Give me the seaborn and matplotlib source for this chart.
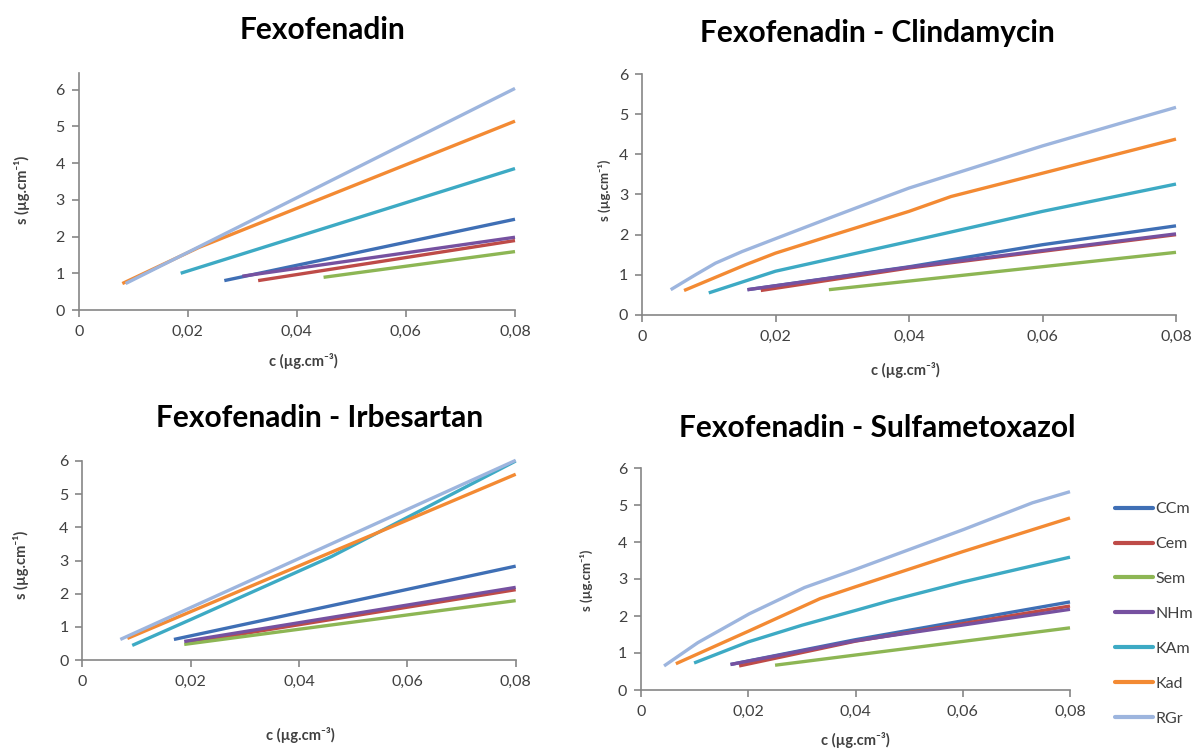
import numpy as np
import pandas as pd
import matplotlib
matplotlib.use("Agg")
import matplotlib.pyplot as plt
import seaborn as sns

sns.set_style("white")
plt.rcParams["font.family"] = ["Lato", "DejaVu Sans"]

# ---------------- data ----------------
series = ["CCm", "Cem", "Sem", "NHm", "KAm", "Kad", "RGr"]
colors = ["#3F6FB5", "#BE4B48", "#8DB654", "#7651A0", "#3DAAC4", "#F38A33", "#9DB5DE"]

titles = ["Fexofenadin", "Fexofenadin - Clindamycin",
          "Fexofenadin - Irbesartan", "Fexofenadin - Sulfametoxazol"]
x_ticks = [0, 0.02, 0.04, 0.06, 0.08]
x_ticklabels = ["0", "0,02", "0,04", "0,06", "0,08"]
y_ticks = [0, 1, 2, 3, 4, 5, 6]

# Fexofenadin
fex_c = {
    "CCm": [0.0267, 0.08], "Cem": [0.0329, 0.08], "Sem": [0.0449, 0.08],
    "NHm": [0.030, 0.08], "KAm": [0.0187, 0.08],
    "Kad": [0.008, 0.022, 0.08], "RGr": [0.0086, 0.08],
}
fex_s = {
    "CCm": [0.80, 2.47], "Cem": [0.80, 1.89], "Sem": [0.89, 1.59],
    "NHm": [0.92, 1.98], "KAm": [1.00, 3.85],
    "Kad": [0.72, 1.70, 5.14], "RGr": [0.72, 6.03],
}
# Fexofenadin - Clindamycin
cli_c = {
    "CCm": [0.0158, 0.04, 0.06, 0.08], "Cem": [0.0178, 0.04, 0.08],
    "Sem": [0.028, 0.08], "NHm": [0.0158, 0.04, 0.08],
    "KAm": [0.010, 0.02, 0.04, 0.06, 0.08],
    "Kad": [0.0063, 0.0155, 0.02, 0.028, 0.04, 0.0463, 0.06, 0.08],
    "RGr": [0.0043, 0.008, 0.011, 0.015, 0.02, 0.028, 0.0366, 0.04, 0.06, 0.0737, 0.08],
}
cli_s = {
    "CCm": [0.63, 1.20, 1.75, 2.22], "Cem": [0.61, 1.17, 2.00],
    "Sem": [0.63, 1.56], "NHm": [0.63, 1.19, 2.02],
    "KAm": [0.55, 1.09, 1.83, 2.58, 3.26],
    "Kad": [0.61, 1.25, 1.54, 1.96, 2.58, 2.95, 3.53, 4.38],
    "RGr": [0.63, 1.00, 1.29, 1.58, 1.90, 2.41, 2.95, 3.16, 4.21, 4.87, 5.17],
}
# Fexofenadin - Irbesartan
irb_c = {
    "CCm": [0.0169, 0.08], "Cem": [0.019, 0.08], "Sem": [0.0188, 0.08],
    "NHm": [0.0188, 0.08], "KAm": [0.0092, 0.02, 0.046, 0.06, 0.08],
    "Kad": [0.0083, 0.08], "RGr": [0.0070, 0.08],
}
irb_s = {
    "CCm": [0.62, 2.83], "Cem": [0.51, 2.12], "Sem": [0.47, 1.79],
    "NHm": [0.56, 2.19], "KAm": [0.44, 1.22, 3.12, 4.30, 6.00],
    "Kad": [0.65, 5.60], "RGr": [0.62, 6.02],
}
# Fexofenadin - Sulfametoxazol
sul_c = {
    "CCm": [0.0167, 0.04, 0.08], "Cem": [0.0183, 0.04, 0.08], "Sem": [0.025, 0.08],
    "NHm": [0.0167, 0.04, 0.08],
    "KAm": [0.0099, 0.02, 0.03, 0.04, 0.0466, 0.06, 0.08],
    "Kad": [0.0065, 0.0202, 0.0334, 0.04, 0.06, 0.08],
    "RGr": [0.0043, 0.0106, 0.0202, 0.0305, 0.04, 0.0602, 0.073, 0.08],
}
sul_s = {
    "CCm": [0.69, 1.36, 2.38], "Cem": [0.65, 1.32, 2.27], "Sem": [0.67, 1.68],
    "NHm": [0.69, 1.33, 2.18],
    "KAm": [0.73, 1.30, 1.75, 2.15, 2.42, 2.92, 3.59],
    "Kad": [0.71, 1.60, 2.47, 2.79, 3.74, 4.65],
    "RGr": [0.65, 1.28, 2.06, 2.77, 3.26, 4.34, 5.06, 5.36],
}

panels_c = [fex_c, cli_c, irb_c, sul_c]
panels_s = [fex_s, cli_s, irb_s, sul_s]

# ---------------- layout ----------------
W, H = 1198, 749
fig = plt.figure(figsize=(W / 100, H / 100), dpi=100)

def box(x0, x1, ytop, ybot):
    return [x0 / W, 1 - ybot / H, (x1 - x0) / W, (ybot - ytop) / H]

axes_boxes = [box(78.7, 515, 73, 310), box(642, 1176, 74, 315),
              box(82.4, 515.7, 461, 660), box(641, 1070, 468, 690)]
ytops = [6.45, 6, 6, 6]
title_pos = [(322, 30), (877, 33), (320, 418), (877, 428)]
xlabel_pos = [(303, 361), (905, 370), (300, 735), (855, 740)]
ylabel_pos = [(22, 190), (604, 190), (21, 565), (586, 580)]

pal = dict(zip(series, colors))
axis_col = "#868686"
text_col = "#404040"
xlab = "c (µg.cm⁻³)"
ylab = "s (µg.cm⁻¹)"

for i in range(4):
    ax = fig.add_axes(axes_boxes[i])
    rows = []
    for s in series:
        for c, v in zip(panels_c[i][s], panels_s[i][s]):
            rows.append((s, c, v))
    df = pd.DataFrame(rows, columns=["series", "c", "s"])
    sns.lineplot(data=df, x="c", y="s", hue="series", hue_order=series,
                 palette=pal, estimator=None, sort=False, linewidth=2.4,
                 legend=False, ax=ax)
    ax.set_xlim(0, 0.08)
    ax.set_ylim(0, ytops[i])
    ax.set_xticks(x_ticks)
    ax.set_xticklabels(x_ticklabels)
    ax.set_yticks(y_ticks)
    ax.set_xlabel("")
    ax.set_ylabel("")
    for sp in ["top", "right"]:
        ax.spines[sp].set_visible(False)
    for sp in ["left", "bottom"]:
        ax.spines[sp].set_color(axis_col)
        ax.spines[sp].set_linewidth(1.2)
    ax.tick_params(axis="both", which="major", direction="out", length=5,
                   width=1.2, color=axis_col, labelcolor=text_col,
                   labelsize=11.5, left=True, bottom=True)
    ax.tick_params(axis="x", pad=6)
    ax.tick_params(axis="y", pad=5)
    for ln in ax.lines:
        ln.set_solid_capstyle("butt")
        ln.set_solid_joinstyle("round")
        ln.set_clip_on(False)

    tx, ty = title_pos[i]
    fig.text(tx / W, 1 - ty / H, titles[i], ha="center", va="center",
             fontsize=21.5, fontweight="bold", color="black")
    lx, ly = xlabel_pos[i]
    fig.text(lx / W, 1 - ly / H, xlab, ha="center", va="center",
             fontsize=10.5, fontweight="bold", color=text_col)
    yx, yy = ylabel_pos[i]
    fig.text(yx / W, 1 - yy / H, ylab, ha="center", va="center",
             rotation=90, fontsize=10.5 if i in (0, 2) else 9.5,
             fontweight="bold", color=text_col)

# legend
handles = [plt.Line2D([], [], color=col, linewidth=3) for col in colors]
fig.legend(handles, series, loc="upper left",
           bbox_to_anchor=(1115 / W, 1 - 502 / H), frameon=False,
           fontsize=11.5, handlelength=2.4, handletextpad=0.15,
           labelspacing=1.3, borderpad=0, borderaxespad=0,
           labelcolor=text_col)

fig.savefig("out.png", dpi=100, facecolor="white")
